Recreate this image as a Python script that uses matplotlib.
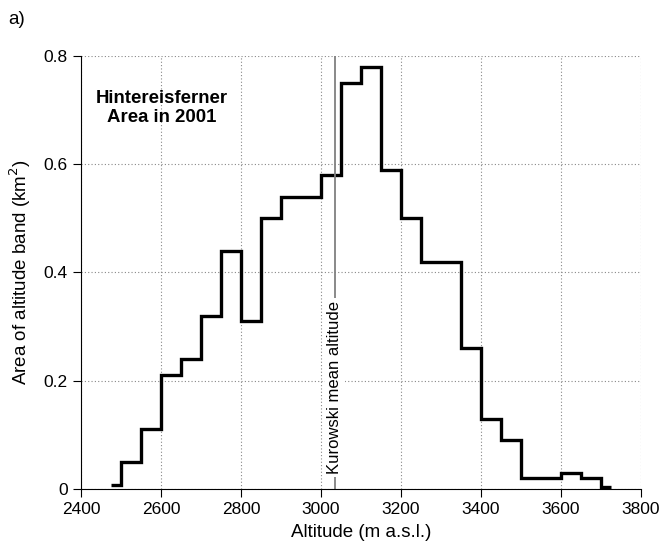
import numpy as np
import matplotlib
matplotlib.use("Agg")
import matplotlib.pyplot as plt

plt.rcParams['font.family'] = ['Liberation Sans', 'DejaVu Sans']

# altitude band edges (m a.s.l.) and area per band (km2)
edges = [2475, 2500, 2550, 2600, 2650, 2700, 2750, 2800, 2850, 2900, 2950,
         3000, 3050, 3100, 3150, 3200, 3250, 3300, 3350, 3400, 3450, 3500,
         3550, 3600, 3650, 3700, 3725]
area = [0.007, 0.05, 0.11, 0.21, 0.24, 0.32, 0.44, 0.31, 0.50, 0.54, 0.54,
        0.58, 0.75, 0.78, 0.59, 0.50, 0.42, 0.42, 0.26, 0.13, 0.09, 0.02,
        0.02, 0.03, 0.02, 0.004]
mean_alt = 3035

fig = plt.figure(figsize=(6.65, 5.57), dpi=100)
ax = fig.add_axes([0.1218, 0.1221, 0.8421, 0.7774])

ax.stairs(area, edges, color='black', linewidth=2.4, baseline=None)
ax.axvline(mean_alt, color='#808080', linewidth=1.3, zorder=1)
ax.text(mean_alt, 0.187, 'Kurowski mean altitude', rotation=90,
        ha='center', va='center', fontsize=12,
        bbox=dict(facecolor='white', edgecolor='none', pad=2))

ax.text(2602, 0.704, 'Hintereisferner\nArea in 2001', ha='center', va='center',
        fontsize=13.4, fontweight='bold', linespacing=1.2)

ax.set_xlim(2400, 3800)
ax.set_ylim(0, 0.8)
ax.set_xticks(np.arange(2400, 3801, 200))
ax.set_yticks([0, 0.2, 0.4, 0.6, 0.8])
ax.set_yticklabels(['0', '0.2', '0.4', '0.6', '0.8'])
ax.grid(True, linestyle=(0, (1, 2)), color='#888888', linewidth=0.8)
ax.set_axisbelow(True)
for s in ['top', 'right']:
    ax.spines[s].set_visible(False)
ax.tick_params(direction='out', length=6, labelsize=12.5)
ax.set_xlabel('Altitude (m a.s.l.)', fontsize=13.5, labelpad=5)
ax.set_ylabel('Area of altitude band (km$^2$)', fontsize=13.5, labelpad=8)

fig.text(0.012, 0.965, 'a)', fontsize=13.5, ha='left', va='center')

fig.savefig('out.png', dpi=100)
